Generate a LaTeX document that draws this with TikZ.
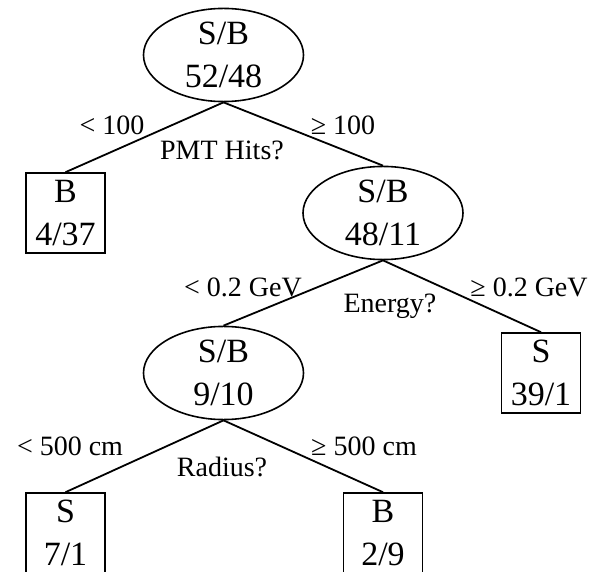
\documentclass[tikz,border=0pt]{standalone}
\usepackage{fontspec}
\setmainfont{Liberation Serif}
\usetikzlibrary{shapes.geometric}
\begin{document}
\begin{tikzpicture}[x=1pt,y=-1pt,
  nodetext/.style={font=\fontsize{34}{43}\selectfont,align=center,inner sep=0pt},
  oval/.style={nodetext,ellipse,draw,line width=1.6pt,minimum width=160pt,minimum height=81pt},
  leaf/.style={nodetext,rectangle,draw,line width=1.6pt,minimum width=79pt,minimum height=80pt},
  lbl/.style={font=\fontsize{28}{32}\selectfont,inner sep=0pt},
  edge/.style={line width=1.8pt}]
\useasboundingbox (0,0) rectangle (590,572);
\fill[white] (0,0) rectangle (590,572);
\node[oval] (root) at (223.5,55) {S/B\\52/48};
\node[leaf] (b1) at (65.5,213) {B\\4/37};
\node[oval] (e2) at (383,213) {S/B\\48/11};
\node[oval] (e3) at (223.5,373) {S/B\\9/10};
\node[leaf] (s1) at (541,373) {S\\39/1};
\node[leaf] (s2) at (65.5,533) {S\\7/1};
\node[leaf] (b2) at (383,533) {B\\2/9};
\draw[edge] (root.south) -- (b1.north);
\draw[edge] (root.south) -- (e2.north);
\draw[edge] (e2.south) -- (e3.north);
\draw[edge] (e2.south) -- (s1.north);
\draw[edge] (e3.south) -- (s2.north);
\draw[edge] (e3.south) -- (b2.north);
\node[lbl] (l1) at (112,125) {< 100};
\node[lbl] (q1) at (222,150) {PMT Hits?};
\node[lbl] (r1) at (343,125) {≥ 100};
\node[lbl] (l2) at (243,287) {< 0.2 GeV};
\node[lbl] (q2) at (390,306) {Energy?};
\node[lbl] (r2) at (529,287) {≥ 0.2 GeV};
\node[lbl] (l3) at (70,446) {< 500 cm};
\node[lbl] (q3) at (222,467) {Radius?};
\node[lbl] (r3) at (364,446) {≥ 500 cm};
\end{tikzpicture}
\end{document}
